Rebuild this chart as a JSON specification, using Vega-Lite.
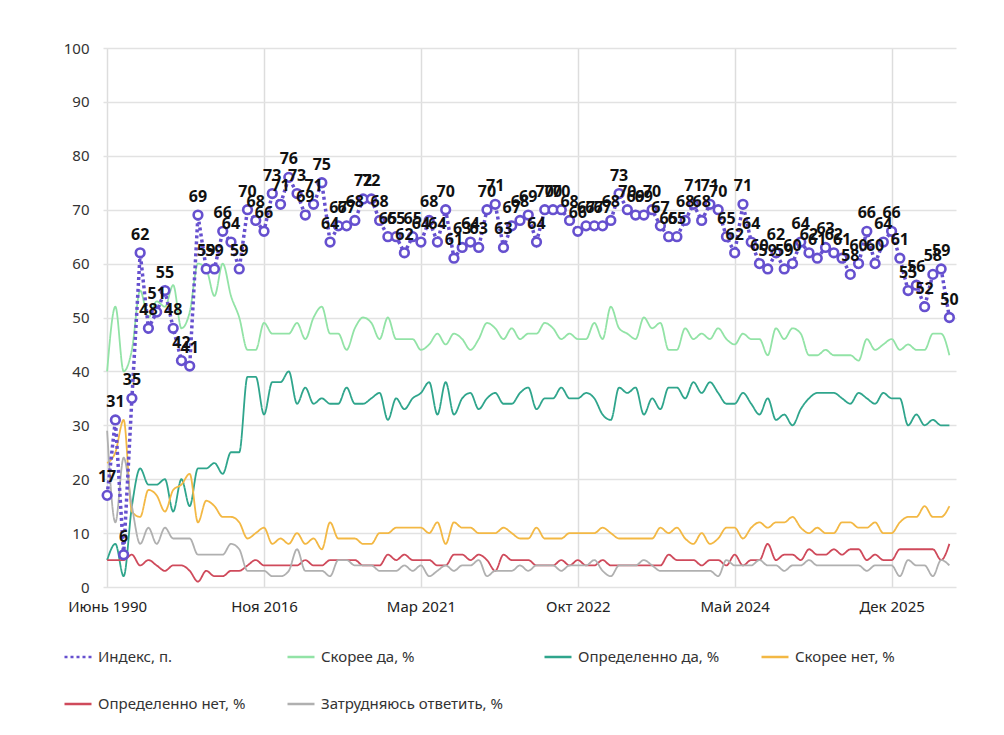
{
  "$schema": "https://vega.github.io/schema/vega-lite/v6.json",
  "width": 853,
  "height": 539,
  "autosize": {"type": "none"},
  "padding": {"left": 103, "top": 48, "right": 48, "bottom": 148},
  "background": "white",
  "config": {
    "view": {"stroke": null},
    "font": "Noto Sans",
    "axis": {
      "labelFont": "Noto Sans",
      "labelFontSize": 15,
      "labelColor": "#333",
      "ticks": false,
      "domain": false,
      "gridColor": "#e2e2e2",
      "gridWidth": 1.5,
      "title": null
    },
    "legend": {
      "orient": "none",
      "legendX": -40,
      "legendY": 594,
      "columns": 4,
      "columnPadding": 36,
      "rowPadding": 24,
      "symbolType": "stroke",
      "symbolSize": 729,
      "symbolStrokeWidth": 2.5,
      "labelFont": "Noto Sans",
      "labelFontSize": 15,
      "labelColor": "#333",
      "labelOffset": 5,
      "labelLimit": 300,
      "title": null
    }
  },
  "data": {
    "values": [
      {"i": 0, "idx": 17, "sy": 40, "dy": 5, "sn": 23, "dn": 5, "na": 29},
      {"i": 1, "idx": 31, "sy": 52, "dy": 8, "sn": 25, "dn": 5, "na": 12},
      {"i": 2, "idx": 6, "sy": 40, "dy": 2, "sn": 31, "dn": 5, "na": 24},
      {"i": 3, "idx": 35, "sy": 44, "dy": 15, "sn": 14, "dn": 6, "na": 15},
      {"i": 4, "idx": 62, "sy": 55, "dy": 22, "sn": 13, "dn": 4, "na": 8},
      {"i": 5, "idx": 48, "sy": 50, "dy": 19, "sn": 18, "dn": 5, "na": 11},
      {"i": 6, "idx": 51, "sy": 53, "dy": 19, "sn": 17, "dn": 4, "na": 8},
      {"i": 7, "idx": 55, "sy": 52, "dy": 20, "sn": 14, "dn": 3, "na": 11},
      {"i": 8, "idx": 48, "sy": 56, "dy": 14, "sn": 18, "dn": 4, "na": 9},
      {"i": 9, "idx": 42, "sy": 48, "dy": 20, "sn": 19, "dn": 4, "na": 9},
      {"i": 10, "idx": 41, "sy": 51, "dy": 15, "sn": 21, "dn": 3, "na": 9},
      {"i": 11, "idx": 69, "sy": 60, "dy": 22, "sn": 12, "dn": 1, "na": 6},
      {"i": 12, "idx": 59, "sy": 59, "dy": 22, "sn": 16, "dn": 3, "na": 6},
      {"i": 13, "idx": 59, "sy": 54, "dy": 23, "sn": 15, "dn": 2, "na": 6},
      {"i": 14, "idx": 66, "sy": 60, "dy": 21, "sn": 13, "dn": 2, "na": 6},
      {"i": 15, "idx": 64, "sy": 54, "dy": 25, "sn": 13, "dn": 3, "na": 8},
      {"i": 16, "idx": 59, "sy": 50, "dy": 25, "sn": 12, "dn": 3, "na": 7},
      {"i": 17, "idx": 70, "sy": 44, "dy": 39, "sn": 9, "dn": 4, "na": 3},
      {"i": 18, "idx": 68, "sy": 44, "dy": 39, "sn": 10, "dn": 5, "na": 3},
      {"i": 19, "idx": 66, "sy": 49, "dy": 32, "sn": 11, "dn": 4, "na": 3},
      {"i": 20, "idx": 73, "sy": 47, "dy": 38, "sn": 8, "dn": 4, "na": 2},
      {"i": 21, "idx": 71, "sy": 47, "dy": 38, "sn": 9, "dn": 4, "na": 2},
      {"i": 22, "idx": 76, "sy": 47, "dy": 40, "sn": 8, "dn": 4, "na": 3},
      {"i": 23, "idx": 73, "sy": 49, "dy": 34, "sn": 10, "dn": 4, "na": 7},
      {"i": 24, "idx": 69, "sy": 46, "dy": 37, "sn": 8, "dn": 5, "na": 3},
      {"i": 25, "idx": 71, "sy": 50, "dy": 34, "sn": 9, "dn": 4, "na": 3},
      {"i": 26, "idx": 75, "sy": 52, "dy": 35, "sn": 7, "dn": 4, "na": 3},
      {"i": 27, "idx": 64, "sy": 47, "dy": 34, "sn": 12, "dn": 5, "na": 2},
      {"i": 28, "idx": 67, "sy": 47, "dy": 34, "sn": 9, "dn": 5, "na": 5},
      {"i": 29, "idx": 67, "sy": 44, "dy": 37, "sn": 9, "dn": 5, "na": 5},
      {"i": 30, "idx": 68, "sy": 48, "dy": 34, "sn": 9, "dn": 5, "na": 4},
      {"i": 31, "idx": 72, "sy": 50, "dy": 34, "sn": 8, "dn": 4, "na": 4},
      {"i": 32, "idx": 72, "sy": 49, "dy": 35, "sn": 8, "dn": 4, "na": 4},
      {"i": 33, "idx": 68, "sy": 46, "dy": 36, "sn": 10, "dn": 4, "na": 3},
      {"i": 34, "idx": 65, "sy": 50, "dy": 31, "sn": 10, "dn": 6, "na": 3},
      {"i": 35, "idx": 65, "sy": 46, "dy": 35, "sn": 11, "dn": 5, "na": 3},
      {"i": 36, "idx": 62, "sy": 46, "dy": 33, "sn": 11, "dn": 6, "na": 4},
      {"i": 37, "idx": 65, "sy": 46, "dy": 35, "sn": 11, "dn": 5, "na": 3},
      {"i": 38, "idx": 64, "sy": 44, "dy": 36, "sn": 11, "dn": 5, "na": 4},
      {"i": 39, "idx": 68, "sy": 45, "dy": 38, "sn": 10, "dn": 5, "na": 2},
      {"i": 40, "idx": 64, "sy": 47, "dy": 32, "sn": 12, "dn": 4, "na": 3},
      {"i": 41, "idx": 70, "sy": 45, "dy": 38, "sn": 8, "dn": 4, "na": 4},
      {"i": 42, "idx": 61, "sy": 47, "dy": 32, "sn": 12, "dn": 6, "na": 3},
      {"i": 43, "idx": 63, "sy": 46, "dy": 35, "sn": 11, "dn": 6, "na": 4},
      {"i": 44, "idx": 64, "sy": 44, "dy": 36, "sn": 11, "dn": 5, "na": 4},
      {"i": 45, "idx": 63, "sy": 46, "dy": 33, "sn": 10, "dn": 6, "na": 5},
      {"i": 46, "idx": 70, "sy": 49, "dy": 35, "sn": 10, "dn": 5, "na": 2},
      {"i": 47, "idx": 71, "sy": 48, "dy": 36, "sn": 10, "dn": 3, "na": 3},
      {"i": 48, "idx": 63, "sy": 46, "dy": 34, "sn": 11, "dn": 6, "na": 3},
      {"i": 49, "idx": 67, "sy": 48, "dy": 34, "sn": 10, "dn": 5, "na": 3},
      {"i": 50, "idx": 68, "sy": 46, "dy": 36, "sn": 9, "dn": 5, "na": 4},
      {"i": 51, "idx": 69, "sy": 47, "dy": 37, "sn": 9, "dn": 5, "na": 3},
      {"i": 52, "idx": 64, "sy": 47, "dy": 33, "sn": 11, "dn": 4, "na": 4},
      {"i": 53, "idx": 70, "sy": 49, "dy": 35, "sn": 9, "dn": 4, "na": 4},
      {"i": 54, "idx": 70, "sy": 48, "dy": 35, "sn": 9, "dn": 4, "na": 4},
      {"i": 55, "idx": 70, "sy": 46, "dy": 37, "sn": 9, "dn": 5, "na": 3},
      {"i": 56, "idx": 68, "sy": 47, "dy": 35, "sn": 10, "dn": 4, "na": 4},
      {"i": 57, "idx": 66, "sy": 46, "dy": 35, "sn": 10, "dn": 5, "na": 4},
      {"i": 58, "idx": 67, "sy": 46, "dy": 36, "sn": 10, "dn": 4, "na": 4},
      {"i": 59, "idx": 67, "sy": 49, "dy": 35, "sn": 10, "dn": 4, "na": 5},
      {"i": 60, "idx": 67, "sy": 46, "dy": 32, "sn": 11, "dn": 5, "na": 3},
      {"i": 61, "idx": 68, "sy": 52, "dy": 31, "sn": 10, "dn": 4, "na": 2},
      {"i": 62, "idx": 73, "sy": 48, "dy": 37, "sn": 9, "dn": 4, "na": 4},
      {"i": 63, "idx": 70, "sy": 47, "dy": 36, "sn": 9, "dn": 4, "na": 4},
      {"i": 64, "idx": 69, "sy": 46, "dy": 37, "sn": 9, "dn": 4, "na": 4},
      {"i": 65, "idx": 69, "sy": 50, "dy": 32, "sn": 9, "dn": 4, "na": 5},
      {"i": 66, "idx": 70, "sy": 48, "dy": 35, "sn": 9, "dn": 4, "na": 4},
      {"i": 67, "idx": 67, "sy": 49, "dy": 33, "sn": 11, "dn": 4, "na": 3},
      {"i": 68, "idx": 65, "sy": 44, "dy": 37, "sn": 10, "dn": 6, "na": 3},
      {"i": 69, "idx": 65, "sy": 44, "dy": 37, "sn": 11, "dn": 5, "na": 3},
      {"i": 70, "idx": 68, "sy": 48, "dy": 35, "sn": 9, "dn": 5, "na": 3},
      {"i": 71, "idx": 71, "sy": 46, "dy": 38, "sn": 8, "dn": 5, "na": 3},
      {"i": 72, "idx": 68, "sy": 47, "dy": 36, "sn": 10, "dn": 4, "na": 3},
      {"i": 73, "idx": 71, "sy": 46, "dy": 38, "sn": 8, "dn": 5, "na": 3},
      {"i": 74, "idx": 70, "sy": 48, "dy": 36, "sn": 9, "dn": 5, "na": 2},
      {"i": 75, "idx": 65, "sy": 46, "dy": 34, "sn": 11, "dn": 4, "na": 5},
      {"i": 76, "idx": 62, "sy": 45, "dy": 34, "sn": 11, "dn": 6, "na": 4},
      {"i": 77, "idx": 71, "sy": 47, "dy": 36, "sn": 9, "dn": 4, "na": 4},
      {"i": 78, "idx": 64, "sy": 46, "dy": 34, "sn": 11, "dn": 5, "na": 4},
      {"i": 79, "idx": 60, "sy": 46, "dy": 32, "sn": 12, "dn": 5, "na": 5},
      {"i": 80, "idx": 59, "sy": 43, "dy": 35, "sn": 11, "dn": 8, "na": 4},
      {"i": 81, "idx": 62, "sy": 48, "dy": 31, "sn": 12, "dn": 5, "na": 4},
      {"i": 82, "idx": 59, "sy": 46, "dy": 32, "sn": 12, "dn": 6, "na": 3},
      {"i": 83, "idx": 60, "sy": 48, "dy": 30, "sn": 13, "dn": 6, "na": 4},
      {"i": 84, "idx": 64, "sy": 47, "dy": 33, "sn": 11, "dn": 5, "na": 4},
      {"i": 85, "idx": 62, "sy": 43, "dy": 35, "sn": 10, "dn": 7, "na": 5},
      {"i": 86, "idx": 61, "sy": 43, "dy": 36, "sn": 11, "dn": 6, "na": 4},
      {"i": 87, "idx": 63, "sy": 44, "dy": 36, "sn": 10, "dn": 6, "na": 4},
      {"i": 88, "idx": 62, "sy": 43, "dy": 36, "sn": 10, "dn": 7, "na": 4},
      {"i": 89, "idx": 61, "sy": 43, "dy": 35, "sn": 12, "dn": 6, "na": 4},
      {"i": 90, "idx": 58, "sy": 43, "dy": 34, "sn": 12, "dn": 7, "na": 4},
      {"i": 91, "idx": 60, "sy": 42, "dy": 36, "sn": 11, "dn": 7, "na": 4},
      {"i": 92, "idx": 66, "sy": 46, "dy": 35, "sn": 11, "dn": 5, "na": 3},
      {"i": 93, "idx": 60, "sy": 44, "dy": 34, "sn": 12, "dn": 6, "na": 4},
      {"i": 94, "idx": 64, "sy": 45, "dy": 36, "sn": 10, "dn": 5, "na": 4},
      {"i": 95, "idx": 66, "sy": 46, "dy": 35, "sn": 10, "dn": 5, "na": 4},
      {"i": 96, "idx": 61, "sy": 44, "dy": 35, "sn": 12, "dn": 7, "na": 2},
      {"i": 97, "idx": 55, "sy": 45, "dy": 30, "sn": 13, "dn": 7, "na": 5},
      {"i": 98, "idx": 56, "sy": 44, "dy": 32, "sn": 13, "dn": 7, "na": 4},
      {"i": 99, "idx": 52, "sy": 44, "dy": 30, "sn": 15, "dn": 7, "na": 4},
      {"i": 100, "idx": 58, "sy": 47, "dy": 31, "sn": 13, "dn": 7, "na": 2},
      {"i": 101, "idx": 59, "sy": 47, "dy": 30, "sn": 13, "dn": 5, "na": 5},
      {"i": 102, "idx": 50, "sy": 43, "dy": 30, "sn": 15, "dn": 8, "na": 4}
    ]
  },
  "transform": [
    {"fold": ["idx", "sy", "dy", "sn", "dn", "na"], "as": ["k", "v"]}
  ],
  "encoding": {
    "x": {
      "field": "i",
      "type": "quantitative",
      "scale": {"domain": [-0.5, 102.8], "nice": false, "zero": false},
      "axis": {
        "values": [0, 19, 38, 57, 76, 95],
        "labelExpr": "['Июнь 1990', 'Ноя 2016', 'Мар 2021', 'Окт 2022', 'Май 2024', 'Дек 2025'][round(datum.value / 19)]",
        "labelPadding": 12,
        "labelColor": "#222",
        "gridColor": "#dddddd"
      }
    },
    "y": {
      "field": "v",
      "type": "quantitative",
      "scale": {"domain": [0, 100], "nice": false},
      "axis": {"values": [0, 10, 20, 30, 40, 50, 60, 70, 80, 90, 100], "labelPadding": 14}
    }
  },
  "layer": [
    {
      "transform": [{"filter": "datum.k !== 'idx'"}],
      "mark": {"type": "line", "interpolate": "monotone", "strokeWidth": 1.8},
      "encoding": {
        "color": {
          "field": "k",
          "type": "nominal",
          "sort": ["idx", "sn", "sy", "dn", "dy", "na"],
          "scale": {
            "domain": ["idx", "sn", "sy", "dn", "dy", "na"],
            "range": ["#6650cf", "#f3b844", "#92e3a6", "#cf4a5b", "#2fa58c", "#b0b0b0"]
          },
          "legend": {
            "labelExpr": "{'idx': 'Индекс, п.', 'sy': 'Скорее да, %', 'dy': 'Определенно да, %', 'sn': 'Скорее нет, %', 'dn': 'Определенно нет, %', 'na': 'Затрудняюсь ответить, %'}[datum.label]"
          }
        },
        "strokeDash": {
          "field": "k",
          "type": "nominal",
          "sort": ["idx", "sn", "sy", "dn", "dy", "na"],
          "scale": {
            "domain": ["idx", "sn", "sy", "dn", "dy", "na"],
            "range": [[3, 3], [1, 0], [1, 0], [1, 0], [1, 0], [1, 0]]
          },
          "legend": {
            "labelExpr": "{'idx': 'Индекс, п.', 'sy': 'Скорее да, %', 'dy': 'Определенно да, %', 'sn': 'Скорее нет, %', 'dn': 'Определенно нет, %', 'na': 'Затрудняюсь ответить, %'}[datum.label]"
          }
        }
      }
    },
    {
      "transform": [{"filter": "datum.k === 'idx'"}],
      "mark": {"type": "line", "strokeWidth": 3.5, "strokeCap": "butt"},
      "encoding": {
        "color": {
          "field": "k",
          "type": "nominal",
          "sort": ["idx", "sn", "sy", "dn", "dy", "na"],
          "scale": {
            "domain": ["idx", "sn", "sy", "dn", "dy", "na"],
            "range": ["#6650cf", "#f3b844", "#92e3a6", "#cf4a5b", "#2fa58c", "#b0b0b0"]
          }
        },
        "strokeDash": {
          "field": "k",
          "type": "nominal",
          "sort": ["idx", "sn", "sy", "dn", "dy", "na"],
          "scale": {
            "domain": ["idx", "sn", "sy", "dn", "dy", "na"],
            "range": [[3, 3], [1, 0], [1, 0], [1, 0], [1, 0], [1, 0]]
          }
        }
      }
    },
    {
      "transform": [{"filter": "datum.k === 'idx'"}],
      "mark": {"type": "point", "shape": "circle", "filled": true, "fill": "white", "stroke": "#6650cf", "strokeWidth": 2.6, "size": 75, "opacity": 1},
      "encoding": {}
    },
    {
      "transform": [{"filter": "datum.k === 'idx'"}],
      "mark": {"type": "text", "dy": -18, "font": "Noto Sans", "fontWeight": "bold", "fontSize": 16, "color": "#111"},
      "encoding": {"text": {"field": "v", "type": "quantitative"}}
    }
  ]
}
